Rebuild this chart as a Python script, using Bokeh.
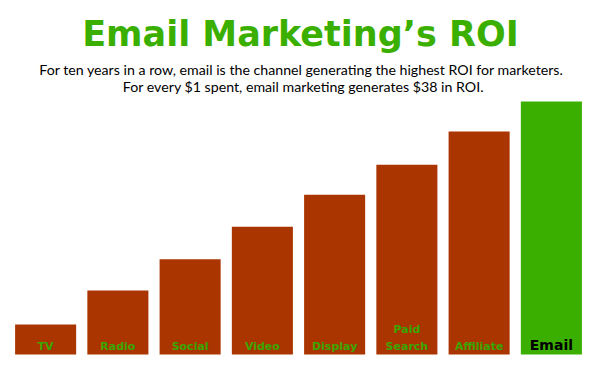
from bokeh.plotting import figure
from bokeh.models import Range1d, Label, ColumnDataSource
from bokeh.core.properties import value
from bokeh.embed import file_html
from bokeh.resources import INLINE

channels = ["TV", "Radio", "Social", "Video", "Display", "Paid Search", "Affiliate", "Email"]
labels = ["TV", "Radio", "Social", "Video", "Display", "Paid\nSearch", "Affiliate", "Email"]
roi = [4.5, 9.6, 14.3, 19.2, 24.0, 28.5, 33.5, 38.0]
bar_colors = ["#ab3500"] * 7 + ["#3aaf00"]
label_colors = ["#3aa600"] * 7 + ["#000000"]
label_sizes = ["11px"] * 7 + ["14px"]

title_text = "Email Marketing\u2019s ROI"
sub1 = "For ten years in a row, email is the channel generating the highest ROI for marketers."
sub2 = "For every $1 spent, email marketing generates $38 in ROI."

src = ColumnDataSource(dict(x=channels, top=roi, color=bar_colors,
                            label=labels, lcolor=label_colors, lsize=label_sizes,
                            base=[0] * len(roi)))

W, H = 592, 376
p = figure(width=W, height=H, x_range=channels,
           y_range=Range1d(-3.30, 53.17),
           output_backend="svg", toolbar_location=None,
           x_axis_location=None, y_axis_location=None,
           min_border_left=9, min_border_right=5, min_border_top=0, min_border_bottom=0)
p.outline_line_color = None
p.grid.visible = False
p.background_fill_color = "white"
p.border_fill_color = "white"

p.vbar(x="x", top="top", bottom=0, width=0.845, fill_color="color", line_color=None, source=src)
p.text(x="x", y="base", text="label", text_color="lcolor", text_font_size="lsize",
       text_font=value("DejaVu Sans"), text_font_style="bold", text_align="center",
       text_baseline="bottom", y_offset=-2, text_line_height=1.3, source=src)

p.add_layout(Label(x=291, y=H - 33, x_units="screen", y_units="screen", text=title_text,
                   text_font="DejaVu Sans", text_font_style="bold", text_font_size="35px",
                   text_color="#3aaf00", text_align="center", text_baseline="alphabetic"))
p.add_layout(Label(x=292, y=H - 69, x_units="screen", y_units="screen", text=sub1,
                   text_font="Lato", text_font_size="14.2px",
                   text_color="#000000", text_align="center", text_baseline="alphabetic"))
p.add_layout(Label(x=294, y=H - 86, x_units="screen", y_units="screen", text=sub2,
                   text_font="Lato", text_font_size="14.2px",
                   text_color="#000000", text_align="center", text_baseline="alphabetic"))

open("out.html", "w").write(file_html(p, INLINE))
